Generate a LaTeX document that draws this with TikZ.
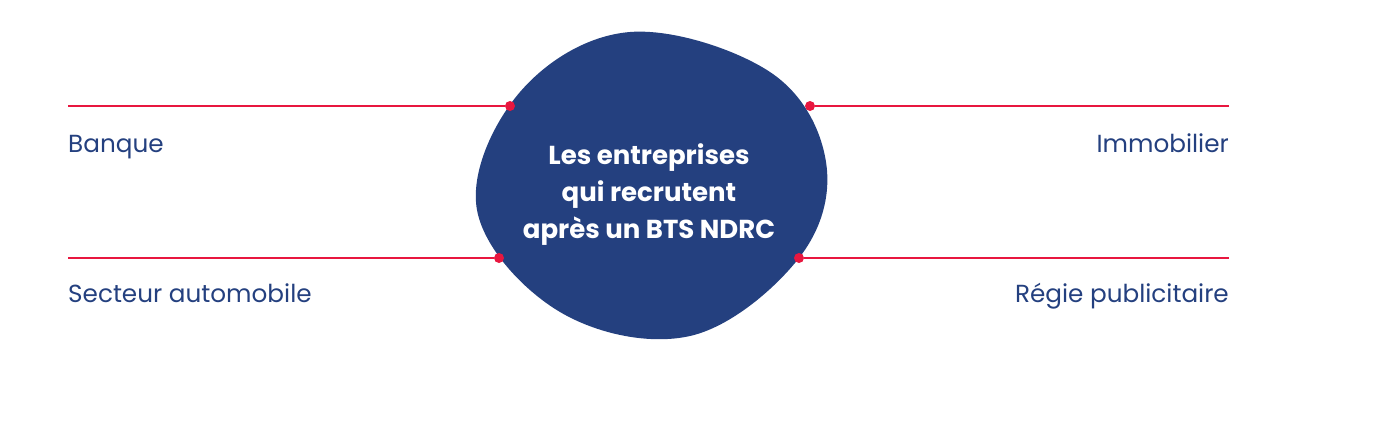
\documentclass[tikz,border=0pt]{standalone}
\usepackage{fontspec}
\setmainfont{Poppins}
\usetikzlibrary{positioning}

\definecolor{navy}{HTML}{24407F}
\definecolor{pinkred}{HTML}{E8173F}

\begin{document}
\begin{tikzpicture}[
    x=1pt, y=-1pt,
    blob/.style={fill=navy},
    dot/.style={circle, fill=pinkred, inner sep=0pt, minimum size=10pt},
    link/.style={pinkred, line width=2pt},
    sector/.style={text=navy, font=\fontsize{24.7}{29}\selectfont, inner sep=0pt},
    title/.style={text=white, align=center, inner sep=0pt,
        font=\fontsize{26}{37}\selectfont\bfseries}
]
\useasboundingbox (0,0) rectangle (1390,434);

% === CENTRAL BLOB ===
\fill[blob] plot[smooth cycle, tension=0.62] coordinates {
    (630,32) (770,72) (826,162) (799,258) (690,336)
    (560,312) (477,210) (520,92)};

% anchor base sits on the last line
\node[title, anchor=base] (ttl) at (649,238) {Les entreprises\\qui recrutent\\après un BTS NDRC};

% === DOTS ON THE BLOB ===
\node[dot] (dtl) at (510,106) {};
\node[dot] (dtr) at (810,106) {};
\node[dot] (dbl) at (499,258) {};
\node[dot] (dbr) at (799,258) {};

% line ends
\coordinate (etl) at (68,106);
\coordinate (etr) at (1229,106);
\coordinate (ebl) at (68,258);
\coordinate (ebr) at (1229,258);

\draw[link] (etl) -- (dtl);
\draw[link] (etr) -- (dtr);
\draw[link] (ebl) -- (dbl);
\draw[link] (ebr) -- (dbr);

% === SECTORS ===
\node[sector, anchor=base west] (bank) at (68,152) {Banque};
\node[sector, anchor=base east] (immo) at (1229,152) {Immobilier};
\node[sector, anchor=base west] (auto) at (68,302) {Secteur automobile};
\node[sector, anchor=base east] (pub) at (1229,302) {Régie publicitaire};

\end{tikzpicture}
\end{document}
